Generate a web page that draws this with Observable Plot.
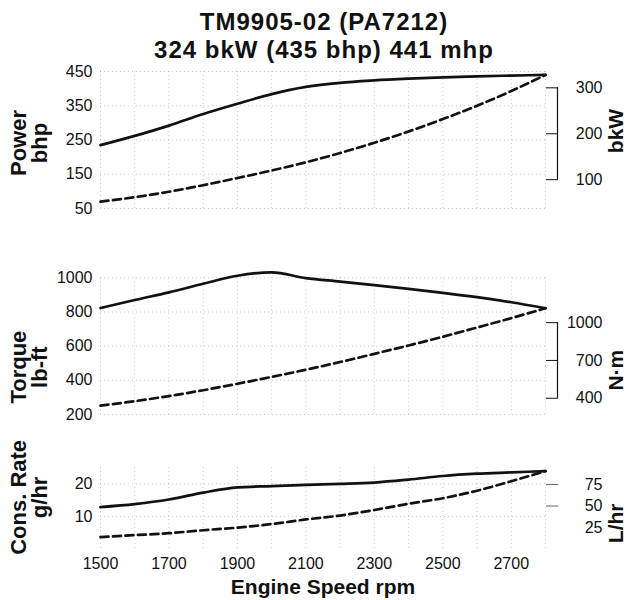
<!DOCTYPE html>
<html><head><meta charset="utf-8">
<script src="https://cdn.jsdelivr.net/npm/d3@7"></script>
<script src="https://cdn.jsdelivr.net/npm/@observablehq/plot@0.6"></script>
<style>
body{margin:0;background:#fff;font-family:"Liberation Sans",Arial,sans-serif;}
#wrap{position:relative;width:627px;height:600px;overflow:hidden;background:#fff;}
.t{position:absolute;left:0;width:648px;text-align:center;font-weight:bold;font-size:24px;letter-spacing:1px;color:#111;line-height:normal;white-space:nowrap;}
.p{position:absolute;left:0;}
</style></head><body>
<div id="wrap">
<div class="t" style="top:8px">TM9905-02 (PA7212)</div>
<div class="t" style="top:36px">324 bkW (435 bhp) 441 mhp</div>
</div>
<script>
// Engine speed (rpm)
const rpm = [1500,1600,1700,1800,1900,2000,2100,2200,2300,2400,2500,2600,2700,2800];
// Power, bhp
const powerRated = [235,262,292,326,356,384,405,417,424,429,433,436,438,440];
const powerProp  = [70,83,99,118,139,161,185,212,242,275,311,350,393,440];
// Torque, lb-ft
const torqueRated = [823,870,915,965,1012,1032,998,978,957,935,912,887,857,822];
const torqueProp  = [252,278,308,342,380,420,462,507,555,604,655,709,764,822];
// Consumption rate, gal/hr
const consRated = [12.9,13.8,15.2,17.3,18.9,19.3,19.7,20.0,20.4,21.3,22.4,23.1,23.5,23.9];
const consProp  = [3.7,4.3,4.9,5.8,6.6,7.7,9.1,10.3,12.0,13.9,15.6,17.9,20.8,23.9];

// Tick labels
const xTicks = [1500,1700,1900,2100,2300,2500,2700];
const powerTicks = [50,150,250,350,450];
const kwTicks = [300,200,100];
const torqueTicks = [200,400,600,800,1000];
const nmTicks = [1000,700,400];
const consTicks = [10,20];
const lhrTicks = [75,50,25];
const lhrTickMarks = [75,50];

// unit conversions for the secondary axes
const KW = 1.341, NM = 0.7376, LH = 0.26417;

const INK = "#111";
const FONT = "'Liberation Sans', Arial, sans-serif";
const fmt = d => String(d);

function series(vals){ return rpm.map((r,i)=>({rpm:r, v:vals[i]})); }

function panel(o){
  const rated = series(o.rated), prop = series(o.prop);
  const marks = [
    Plot.gridX(rpm, {stroke:"#777", strokeOpacity:0.4, strokeDasharray:"1,3"}),
    Plot.gridY(o.ticks, {stroke:"#777", strokeOpacity:0.4, strokeDasharray:"1,3"}),
    Plot.axisY(o.ticks, {anchor:"left", tickSize:0, tickPadding:8, fontSize:16, label:null, tickFormat:fmt}),
    Plot.axisY(o.rightMarks.map(o.conv), {anchor:"right", tickSize:12, tickFormat:()=>"", label:null, stroke:o.rightLine? INK : "#666"}),
    Plot.text(o.rightTicks, {y:o.conv, text:fmt, frameAnchor:"right", dx:57, textAnchor:"end", fontSize:16, fill:INK}),
    Plot.text([o.leftLabel], {frameAnchor:"left", dx:-71, dy:o.leftDy, rotate:-90, textAnchor:"middle", lineAnchor:"middle", fontSize:22, fontWeight:"bold", lineHeight:0.95, fill:INK}),
    Plot.text([o.rightLabel], {frameAnchor:"right", dx:71, dy:o.rightDy, rotate:-90, textAnchor:"middle", lineAnchor:"middle", fontSize:21, fontWeight:"bold", fill:INK}),
    Plot.line(prop, {x:"rpm", y:"v", stroke:INK, strokeWidth:2.7, strokeDasharray:"8,4.5", curve:"monotone-x"}),
    Plot.line(rated, {x:"rpm", y:"v", stroke:INK, strokeWidth:2.7, curve:"monotone-x"})
  ];
  if (o.rightLine) {
    marks.push(Plot.ruleX([2800], {y1:o.conv(d3.min(o.rightMarks)), y2:o.conv(d3.max(o.rightMarks)), dx:12, stroke:INK, strokeWidth:1.2}));
  }
  if (o.xaxis) {
    marks.push(Plot.axisX(xTicks, {anchor:"bottom", tickSize:0, tickPadding:8, fontSize:16, label:null, tickFormat:fmt}));
    marks.push(Plot.text(["Engine Speed rpm"], {frameAnchor:"bottom", dy:38, lineAnchor:"middle", textAnchor:"middle", fontSize:21, fontWeight:"bold", fill:INK}));
  }
  const svg = Plot.plot({
    width:627, height:o.height,
    marginLeft:100, marginRight:82, marginTop:o.mt, marginBottom:o.mb,
    style:{fontFamily:FONT, fontSize:"16px", color:INK, background:"transparent", overflow:"visible"},
    x:{domain:[1500,2800], axis:null},
    y:{domain:o.domain, axis:null},
    marks
  });
  svg.classList.add("p");
  svg.style.top = o.top + "px";
  document.getElementById("wrap").appendChild(svg);
}

panel({top:55, height:165, mt:16, mb:12, domain:[50,450], ticks:powerTicks,
  rated:powerRated, prop:powerProp, rightTicks:kwTicks, rightMarks:kwTicks, conv:d=>d*KW, rightLine:true,
  leftLabel:"Power\nbhp", leftDy:3, rightLabel:"bkW", rightDy:-9});

panel({top:262, height:165, mt:15.3, mb:13, domain:[200,1000], ticks:torqueTicks,
  rated:torqueRated, prop:torqueProp, rightTicks:nmTicks, rightMarks:nmTicks, conv:d=>d*NM, rightLine:true,
  leftLabel:"Torque\nlb-ft", leftDy:21, rightLabel:"N·m", rightDy:24});

panel({top:455, height:145, mt:12, mb:51.3, domain:[0,25], ticks:consTicks,
  rated:consRated, prop:consProp, rightTicks:lhrTicks, rightMarks:lhrTickMarks, conv:d=>d*LH, rightLine:false,
  leftLabel:"Cons. Rate\ng/hr", leftDy:-11, rightLabel:"L/hr", rightDy:15, xaxis:true});
</script>
</body></html>
